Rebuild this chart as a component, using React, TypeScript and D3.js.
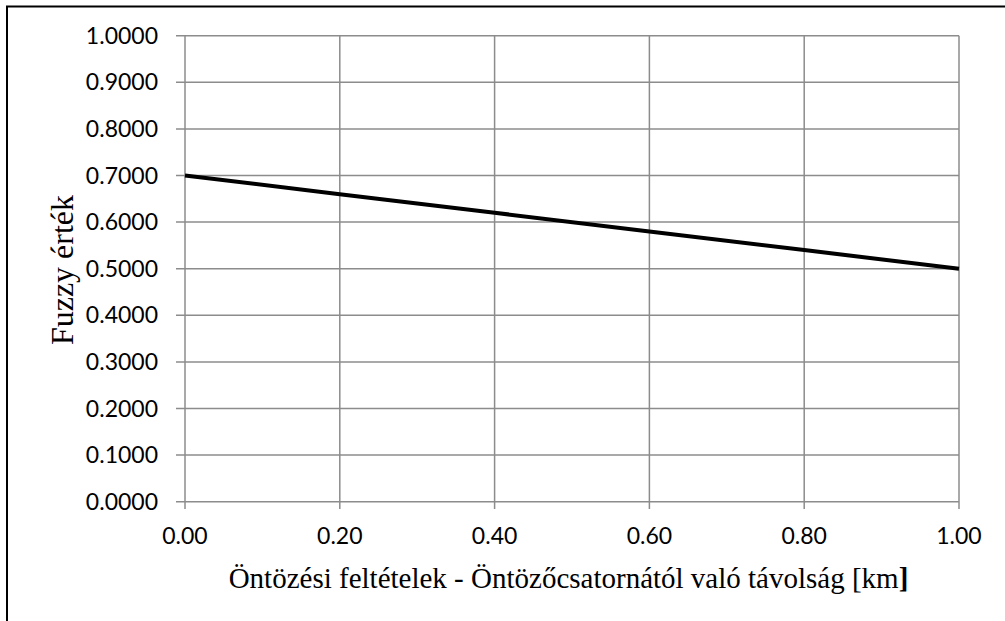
import React from "react";
import * as d3 from "d3";

const distanceKm = [0.0, 0.2, 0.4, 0.6, 0.8, 1.0];
const fuzzyValues = [0.7, 0.66, 0.62, 0.58, 0.54, 0.5];
const yTicks = [0, 0.1, 0.2, 0.3, 0.4, 0.5, 0.6, 0.7, 0.8, 0.9, 1.0];
const xTicks = [0, 0.2, 0.4, 0.6, 0.8, 1.0];
const xTitle = "Öntözési feltételek - Öntözőcsatornától való távolság [km";
const yTitle = "Fuzzy érték";

export default function App() {
  const W = 1005, H = 621;
  const left = 185, right = 959, top = 35.7, bottom = 501.7;
  const x = d3.scaleLinear().domain([0, 1]).range([left, right]);
  const y = d3.scaleLinear().domain([0, 1]).range([bottom, top]);
  const line = d3.line<number>().x((_, i) => x(distanceKm[i])).y((d) => y(d));
  const grid = "#8c8c8c";
  const sans = "Lato, 'Open Sans', sans-serif";
  const serif = "'Liberation Serif', 'Times New Roman', serif";
  return (
    <svg width={W} height={H} style={{ position: "absolute", left: 0, top: 0, background: "#fff" }}>
      <rect x={0} y={0} width={W} height={H} fill="#fff" />
      <rect x={7} y={6.5} width={W + 20} height={H + 20} fill="none" stroke="#000" strokeWidth={2} />
      {yTicks.map((t) => (
        <g key={"y" + t}>
          <line x1={176} x2={right} y1={y(t)} y2={y(t)} stroke={grid} strokeWidth={1.5} />
          <text x={158} y={y(t)} dy="0.35em" textAnchor="end" fontFamily={sans} fontSize={23} fill="#000">
            {t.toFixed(4)}
          </text>
        </g>
      ))}
      {xTicks.map((t) => (
        <g key={"x" + t}>
          <line x1={x(t)} x2={x(t)} y1={top} y2={509} stroke={grid} strokeWidth={1.5} />
          <text x={x(t)} y={544} textAnchor="middle" fontFamily={sans} fontSize={23} fill="#000">
            {t.toFixed(2)}
          </text>
        </g>
      ))}
      <path d={line(fuzzyValues) || ""} fill="none" stroke="#000" strokeWidth={4} />
      <text x={568.5} y={588} textAnchor="middle" fontFamily={serif} fontSize={29} fill="#000">
        {xTitle}
        <tspan fontWeight="bold">]</tspan>
      </text>
      <text
        transform={`translate(73, 270) rotate(-90)`}
        textAnchor="middle"
        fontFamily={serif}
        fontSize={32}
        fill="#000"
      >
        {yTitle}
      </text>
    </svg>
  );
}
